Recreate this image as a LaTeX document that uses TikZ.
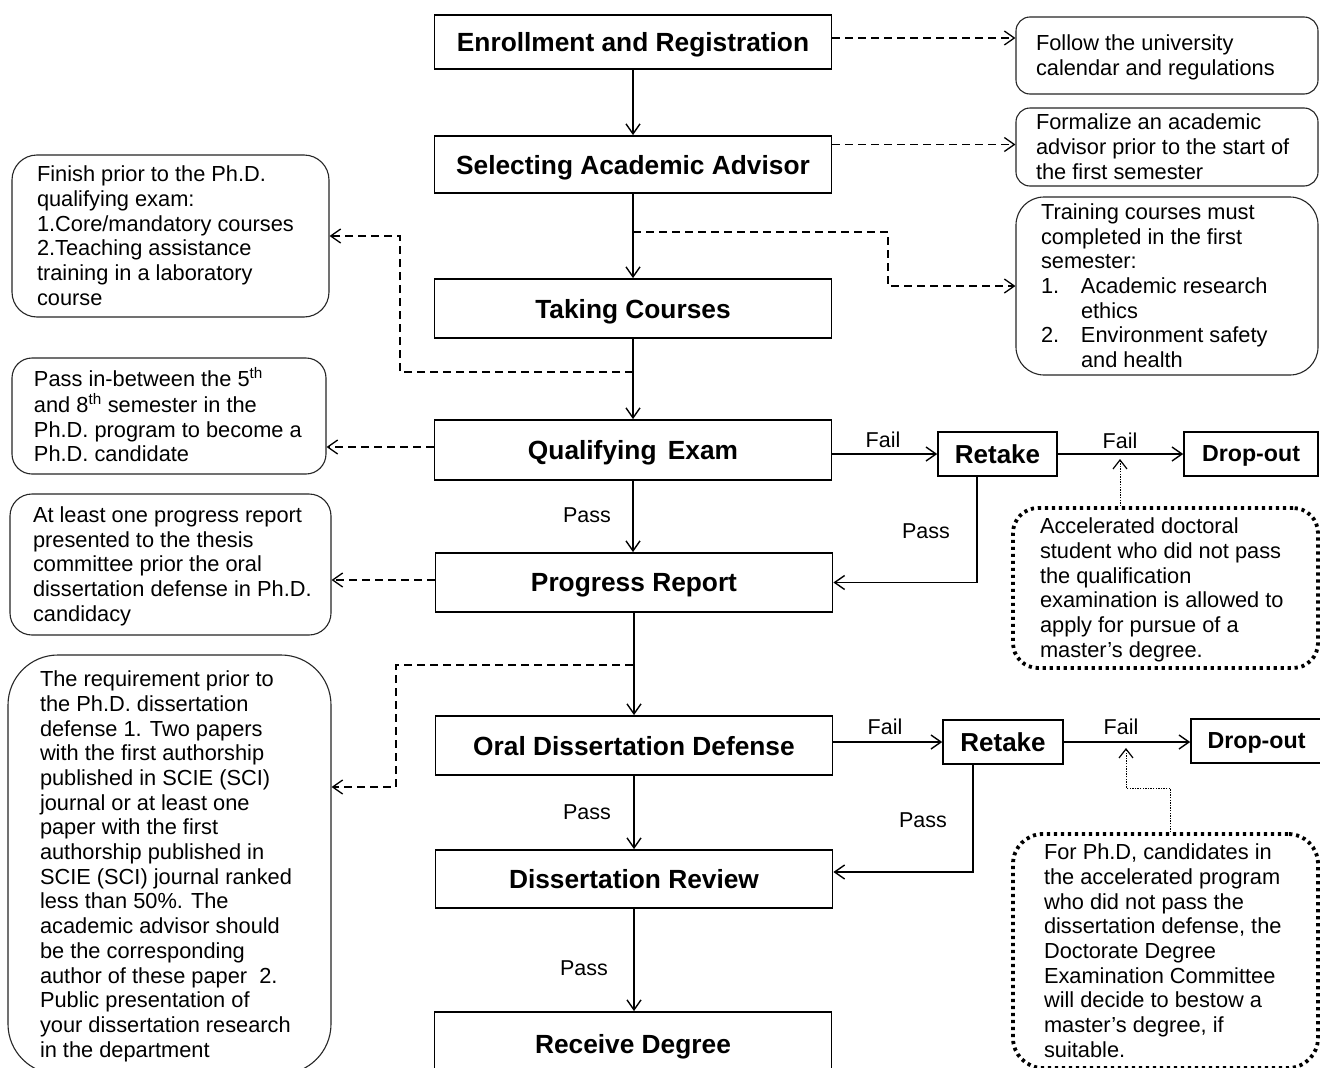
\documentclass[tikz,border=0pt]{standalone}
\usepackage{fontspec}
\setmainfont{Liberation Sans}
\usetikzlibrary{arrows.meta}
\newcommand\notetext[2]{\makebox[#1][l]{\raisebox{-2.5pt}[\height][\depth]{\begin{tabular}{@{}l@{}}#2\end{tabular}}}}
\begin{document}
\begin{tikzpicture}[x=1pt,y=-1pt,
  mainbox/.style={draw, line width=1.8pt, minimum width=397pt, inner sep=0pt, text depth=0pt,
    font=\fontsize{26.3}{30}\selectfont\bfseries},
  smallbox/.style={draw, line width=1.6pt, inner sep=0pt, minimum height=44pt, text depth=0pt,
    font=\fontsize{26}{30}\selectfont\bfseries},
  notebox/.style={draw=black!85, line width=1.1pt, rounded corners=#1, inner sep=0pt,
    font=\fontsize{21.8}{24.7}\selectfont},
  dotbox/.style={draw, line width=3.8pt, dash pattern=on 3.2pt off 3.8pt, rounded corners=#1,
    inner sep=0pt, font=\fontsize{21.8}{24.7}\selectfont},
  flow/.style={line width=1.4pt, -{Straight Barb[length=10pt,width=14pt,line width=1.4pt]}},
  dashflow/.style={line width=1.3pt, dash pattern=on 8pt off 5pt,
    -{Straight Barb[length=10pt,width=14pt,line width=1.3pt]}},
  dotflow/.style={line width=1pt, dash pattern=on 1.3pt off 1.3pt,
    -{Straight Barb[length=9pt,width=14pt,line width=1.2pt]}},
  lbl/.style={inner sep=0pt, font=\fontsize{21.5}{25}\selectfont}
]
\useasboundingbox (0,0) rectangle (1320,1068);
\clip (0,0) rectangle (1320,1068);
\fill[white] (0,0) rectangle (1320,1068);

% main column
\node[mainbox, minimum height=54pt] (b1) at (633,42) {Enrollment and Registration};
\node[mainbox, minimum height=57pt] (b2) at (633,164.5) {Selecting Academic Advisor};
\node[mainbox, minimum height=59pt] (b3) at (633,308.5) {Taking Courses};
\node[mainbox, minimum height=60pt] (b4) at (633,450) {Qualifying\hspace{4pt} Exam};
\node[mainbox, minimum height=59pt] (b5) at (634,582.5) {Progress Report};
\node[mainbox, minimum height=59pt] (b6) at (634,745.5) {Oral Dissertation Defense};
\node[mainbox, minimum height=58pt] (b7) at (634,879) {Dissertation Review};
\node[mainbox, minimum height=63pt] (b8) at (633,1043.5) {Receive Degree};

% retake / drop-out
\node[smallbox, minimum width=119pt] (r1) at (997.5,454) {Retake};
\node[smallbox, minimum width=134pt, font=\fontsize{23.2}{27}\selectfont\bfseries] (d1) at (1251,454) {Drop-out};
\node[smallbox, minimum width=120pt] (r2) at (1003,742) {Retake};
\node[smallbox, minimum width=131pt, font=\fontsize{23.2}{27}\selectfont\bfseries] (d2) at (1256.5,741) {Drop-out};

% right notes
\node[notebox=14pt, minimum width=302pt, minimum height=77pt] (n1) at (1167,55.5)
  {\notetext{262pt}{Follow the university\\calendar and regulations}};
\node[notebox=14pt, minimum width=302pt, minimum height=78pt] (n2) at (1167,147)
  {\notetext{262pt}{Formalize an academic\\advisor prior to the start of\\the first semester}};
\node[notebox=28pt, minimum width=302pt, minimum height=178pt] (n3) at (1167,286)
  {\notetext{252pt}{Training courses must\\completed in the first\\semester:\\
   \makebox[40pt][l]{1.}Academic research\\\hspace*{40pt}ethics\\
   \makebox[40pt][l]{2.}Environment safety\\\hspace*{40pt}and health}};

% left notes
\node[notebox=25pt, minimum width=317pt, minimum height=162pt] (L1) at (170.5,236)
  {\notetext{267pt}{Finish prior to the Ph.D.\\qualifying exam:\\1.Core/mandatory courses\\2.Teaching assistance\\training in a laboratory\\course}};
\node[notebox=20pt, minimum width=314pt, minimum height=116pt] (L2) at (169,416)
  {\notetext{270pt}{Pass in-between the 5\textsuperscript{th}\\and 8\textsuperscript{th} semester in the\\Ph.D. program to become a\\Ph.D. candidate}};
\node[notebox=22pt, minimum width=321pt, minimum height=141pt] (L3) at (170.5,564.5)
  {\notetext{275pt}{At least one progress report\\presented to the thesis\\committee prior the oral\\dissertation defense in Ph.D.\\candidacy}};
\node[notebox=50pt, minimum width=323pt, minimum height=419pt] (L4) at (169.5,864.5)
  {\notetext{259pt}{The requirement prior to\\the Ph.D. dissertation\\defense 1. Two papers\\with the first authorship\\published in SCIE (SCI)\\journal or at least one\\paper with the first\\authorship published in\\SCIE (SCI) journal ranked\\less than 50\%. The\\academic advisor should\\be the corresponding\\author of these paper\ \ 2.\\Public presentation of\\your dissertation research\\in the department}};

% dotted notes
\node[dotbox=25pt, minimum width=305pt, minimum height=160pt] (D1) at (1165.5,588)
  {\notetext{251pt}{Accelerated doctoral\\student who did not pass\\the qualification\\examination is allowed to\\apply for pursue of a\\master’s degree.}};
\node[dotbox=30pt, minimum width=305pt, minimum height=234pt] (D2) at (1165.5,951)
  {\notetext{243pt}{For Ph.D, candidates in\\the accelerated program\\who did not pass the\\dissertation defense, the\\Doctorate Degree\\Examination Committee\\will decide to bestow a\\master’s degree, if\\suitable.}};

% main flow
\draw[flow] (b1.south) -- (b1.south |- b2.north);
\draw[flow] (b2.south) -- (b2.south |- b3.north);
\draw[flow] (b3.south) -- (b3.south |- b4.north);
\draw[flow] (b4.south) -- (b4.south |- b5.north);
\draw[flow] (b5.south) -- (b5.south |- b6.north);
\draw[flow] (b6.south) -- (b6.south |- b7.north);
\draw[flow] (b7.south) -- (b7.south |- b8.north);

% side flows
\draw[flow] (b4.east |- r1.west) -- (r1.west);
\draw[flow] (r1.east) -- (d1.west);
\draw[flow] ([xshift=-20.5pt]r1.south) |- (b5.east);
\draw[flow] (b6.east |- r2.west) -- (r2.west);
\draw[flow] (r2.east) -- (r2.east -| d2.west);
\draw[flow] ([xshift=-30pt]r2.south) |- ([yshift=7pt]b7.east);

% labels
\node[lbl] (p1) at (587,515) {Pass};
\node[lbl] (p2) at (926,531) {Pass};
\node[lbl] (p3) at (587,812) {Pass};
\node[lbl] (p4) at (923,820) {Pass};
\node[lbl] (p5) at (584,968) {Pass};
\node[lbl] (fa1) at (883,440) {Fail};
\node[lbl] (fa2) at (1120,441) {Fail};
\node[lbl] (fa3) at (885,727) {Fail};
\node[lbl] (fa4) at (1121,727) {Fail};

% dashed connectors
\draw[dashflow] ([yshift=4pt]b1.east) -- ([yshift=4pt]b1.east -| n1.west);
\draw[dashflow] ([yshift=20pt]b2.east) -- ([yshift=20pt]b2.east -| n2.west);
\coordinate (j1) at (633,232);
\draw[dashflow] (j1) -- (888,232) |- (n3.west);
\coordinate (j2) at (633,372);
\draw[dashflow] (j2) -- (400,372) |- (L1.east);
\draw[dashflow] ([yshift=3pt]b4.west) -- ([yshift=3pt]b4.west -| L2.east);
\draw[dashflow] ([yshift=2.5pt]b5.west) -- ([yshift=2.5pt]b5.west -| L3.east);
\coordinate (j3) at (633,665);
\draw[dashflow] (j3) -- (396,665) |- (L4.east |- 0,787);

% dotted connectors
\coordinate (f1) at (1120,459);
\draw[dotflow] (D1.north -| f1) -- (f1);
\coordinate (f2) at (1126,748);
\draw[dotflow] (D2.north -| 1170,0) |- (1126,788) -- (f2);
\end{tikzpicture}
\end{document}
